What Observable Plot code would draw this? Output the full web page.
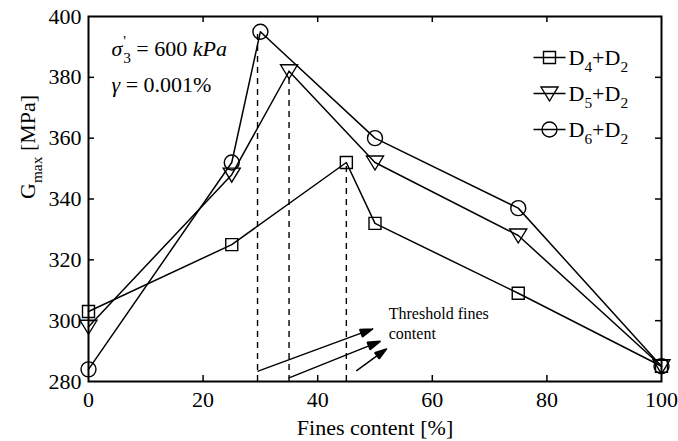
<!DOCTYPE html>
<html><head><meta charset="utf-8">
<script src="https://cdn.jsdelivr.net/npm/d3@7"></script>
<script src="https://cdn.jsdelivr.net/npm/@observablehq/plot@0.6"></script>
<style>html,body{margin:0;padding:0;background:#fff}</style>
</head><body><div id="chart"></div>
<script>
// ---- data ----
const seriesLabels = ["D4+D2", "D5+D2", "D6+D2"];
const finesD4 = [0, 25, 45, 50, 75, 100];
const gmaxD4  = [303, 325, 352, 332, 309, 285];
const finesD5 = [0, 25, 35, 50, 75, 100];
const gmaxD5  = [298, 348, 382, 352, 328, 285];
const finesD6 = [0, 25, 30, 50, 75, 100];
const gmaxD6  = [284, 352, 395, 360, 337, 285];
const thresholdFines = [29.5, 35, 45];
const thresholdGmax  = [395, 382, 352];
const arrowX1 = [29.6, 35.0, 46.8];
const arrowY1 = [283.4, 281.2, 283.6];
const arrowX2 = [49.6, 50.9, 52.0];
const arrowY2 = [297.3, 293.2, 290.7];
const noteText = "Threshold fines\ncontent";
const noteFines = 52.4;
const noteGmax = 305.2;
const conditionLines = ["σ'3 = 600 kPa", "γ = 0.001%"];
const xTicks = [0, 20, 40, 60, 80, 100];
const yTicks = [280, 300, 320, 340, 360, 380, 400];
const xLabel = "Fines content [%]";
const yLabel = "Gmax [MPa]";

// ---- layout ----
const W = 678, H = 441, mL = 88, mR = 17, mT = 16, mB = 60;
const frameW = W - mL - mR, frameH = H - mT - mB;
const FF = "Liberation Serif";

const toRows = (xs, ys) => xs.map((x, i) => ({fines: x, gmax: ys[i]}));
const rows = [toRows(finesD4, gmaxD4), toRows(finesD5, gmaxD5), toRows(finesD6, gmaxD6)];

const square = {draw(c) { c.moveTo(-6, -6); c.lineTo(6, -6); c.lineTo(6, 6); c.lineTo(-6, 6); c.closePath(); }};
const triDown = {draw(c) { c.moveTo(-8.5, -6.5); c.lineTo(8.5, -6.5); c.lineTo(0, 7.5); c.closePath(); }};
const circle = {draw(c) { c.moveTo(7.5, 0); c.arc(0, 0, 7.5, 0, 2 * Math.PI); }};
const symbols = [square, triDown, circle];
const withLine = (s) => ({draw(c) { c.moveTo(-16, 0); c.lineTo(16, 0); s.draw(c); }});

const innerX = xTicks.slice(1, -1);
const innerY = yTicks.slice(1, -1);
const arrows = arrowX1.map((x, i) => ({x1: x, y1: arrowY1[i], x2: arrowX2[i], y2: arrowY2[i]}));
const thresholds = thresholdFines.map((f, i) => ({fines: f, gmax: thresholdGmax[i]}));

const marks = [];
marks.push(Plot.ruleX(thresholds, {x: "fines", y1: 280, y2: "gmax", stroke: "black", strokeWidth: 1.4, strokeDasharray: "6,5"}));
rows.forEach((r, k) => {
  marks.push(Plot.line(r, {x: "fines", y: "gmax", stroke: "black", strokeWidth: 1.5}));
  marks.push(Plot.dot(r, {x: "fines", y: "gmax", symbol: symbols[k], fill: "none", stroke: "black", strokeWidth: 1.4}));
});
marks.push(Plot.arrow(arrows, {x1: "x1", y1: "y1", x2: "x2", y2: "y2", stroke: "black", strokeWidth: 1.5, headLength: 13, headAngle: 36}));
marks.push(Plot.text([noteText], {x: () => noteFines, y: () => noteGmax, textAnchor: "start", lineAnchor: "top", fontSize: 16, lineHeight: 1.25, fill: "black", fontFamily: FF}));
conditionLines.forEach((t, i) => {
  marks.push(Plot.text([t], {frameAnchor: "top-left", dx: 23, dy: 39 + i * 36, textAnchor: "start", lineAnchor: "bottom", fontSize: 22, fill: "black", fontFamily: FF}));
});
seriesLabels.forEach((t, i) => {
  marks.push(Plot.dot([t], {frameAnchor: "top-right", dx: -112, dy: 41 + i * 36, symbol: withLine(symbols[i]), fill: "none", stroke: "black", strokeWidth: 1.4}));
  marks.push(Plot.text([t], {frameAnchor: "top-right", dx: -93, dy: 48 + i * 36, textAnchor: "start", lineAnchor: "bottom", fontSize: 22, fill: "black", fontFamily: FF}));
});
marks.push(Plot.frame({stroke: "black", strokeWidth: 2}));
marks.push(Plot.ruleX(innerX, {x: (d) => d, insetTop: frameH - 6, stroke: "black", strokeWidth: 1.5}));
marks.push(Plot.ruleX(innerX, {x: (d) => d, insetBottom: frameH - 6, stroke: "black", strokeWidth: 1.5}));
marks.push(Plot.ruleY(innerY, {y: (d) => d, insetRight: frameW - 6, stroke: "black", strokeWidth: 1.5}));
marks.push(Plot.ruleY(innerY, {y: (d) => d, insetLeft: frameW - 6, stroke: "black", strokeWidth: 1.5}));
marks.push(Plot.axisX(xTicks, {tickSize: 0, tickPadding: 10, fontSize: 22, fontFamily: FF, label: null, tickFormat: (d) => String(d)}));
marks.push(Plot.axisY(yTicks, {tickSize: 0, tickPadding: 7, fontSize: 22, fontFamily: FF, label: null, tickFormat: (d) => String(d)}));
marks.push(Plot.text([xLabel], {frameAnchor: "bottom", dy: 53, lineAnchor: "bottom", fontSize: 22, fill: "black", fontFamily: FF}));
marks.push(Plot.text([yLabel], {frameAnchor: "left", dx: -54, rotate: -90, lineAnchor: "bottom", fontSize: 22, fill: "black", fontFamily: FF}));

const svg = Plot.plot({
  width: W, height: H,
  marginLeft: mL, marginRight: mR, marginTop: mT, marginBottom: mB,
  x: {domain: [0, 100]},
  y: {domain: [280, 400]},
  marks
});
svg.setAttribute("font-family", FF);
document.getElementById("chart").appendChild(svg);

// ---- rich text (subscripts / italics) ----
const NS = "http://www.w3.org/2000/svg";
const richMap = {
  "Gmax [MPa]": {fs: 22, segs: [{t: "G"}, {t: "max", sub: 1}, {t: " [MPa]"}]},
  "D4+D2": {fs: 22, segs: [{t: "D"}, {t: "4", sub: 1}, {t: "+"}, {t: "D"}, {t: "2", sub: 1}]},
  "D5+D2": {fs: 22, segs: [{t: "D"}, {t: "5", sub: 1}, {t: "+"}, {t: "D"}, {t: "2", sub: 1}]},
  "D6+D2": {fs: 22, segs: [{t: "D"}, {t: "6", sub: 1}, {t: "+"}, {t: "D"}, {t: "2", sub: 1}]},
  "σ'3 = 600 kPa": {fs: 22, segs: [{t: "σ", it: 1}, {t: "'", sup: 1, dx: 1}, {t: "3", sub: 1, dx: -3}, {t: " = 600 "}, {t: "kPa", it: 1}]},
  "γ = 0.001%": {fs: 22, segs: [{t: "γ", it: 1}, {t: " = 0.001%"}]}
};
svg.querySelectorAll("text").forEach((el) => {
  el.setAttribute("font-family", FF);
  el.style.setProperty("font-family", "'Liberation Serif', serif", "important");
  const spec = richMap[el.textContent];
  if (!spec || el.querySelector("tspan")) return;
  const fs = spec.fs;
  el.textContent = "";
  let cur = 0;
  for (const s of spec.segs) {
    const ts = document.createElementNS(NS, "tspan");
    const target = s.sub ? 0.32 * fs : s.sup ? -0.42 * fs : 0;
    if (target !== cur) ts.setAttribute("dy", target - cur);
    cur = target;
    if (s.sub || s.sup) ts.setAttribute("font-size", 0.7 * fs);
    if (s.it) ts.setAttribute("font-style", "italic");
    if (s.dx) ts.setAttribute("dx", s.dx);
    ts.textContent = s.t;
    el.appendChild(ts);
  }
});
svg.querySelectorAll('g[aria-label="arrow"] path').forEach((p) => {
  p.setAttribute("d", p.getAttribute("d") + "Z");
  p.setAttribute("fill", "black");
  p.setAttribute("stroke-linejoin", "miter");
});
</script>
</body></html>
